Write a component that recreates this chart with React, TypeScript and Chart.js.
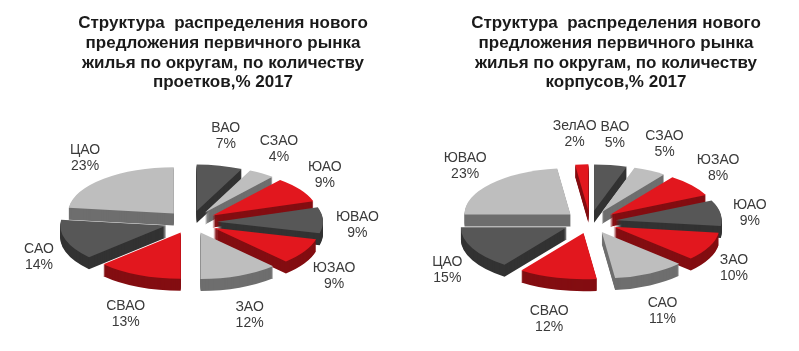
import React, { useEffect, useRef } from 'react';
import { Chart, registerables } from 'chart.js';

Chart.register(...registerables);

// ---------- data ----------
const titleA = [
  'Структура  распределения нового',
  'предложения первичного рынка',
  'жилья по округам, по количеству',
  'проетков,% 2017',
];
const districtsA = ['ВАО', 'СЗАО', 'ЮАО', 'ЮВАО', 'ЮЗАО', 'ЗАО', 'СВАО', 'САО', 'ЦАО'];
const sharesA = [7, 4, 9, 9, 9, 12, 13, 14, 23];
const tonesA = ['dark', 'light', 'red', 'dark', 'red', 'light', 'red', 'dark', 'light'];

const titleB = [
  'Структура  распределения нового',
  'предложения первичного рынка',
  'жилья по округам, по количеству',
  'корпусов,% 2017',
];
const districtsB = ['ВАО', 'СЗАО', 'ЮЗАО', 'ЮАО', 'ЗАО', 'САО', 'СВАО', 'ЦАО', 'ЮВАО', 'ЗелАО'];
const sharesB = [5, 5, 8, 9, 10, 11, 12, 15, 23, 2];
const tonesB = ['dark', 'light', 'red', 'dark', 'red', 'light', 'red', 'dark', 'light', 'red'];

// ---------- style ----------
const TOP: Record<string, string> = { dark: '#575757', light: '#BEBEBE', red: '#E2171E' };
const RADIUS = 106;
const EXPLODE = 26;
const TILT = 0.437;
const DEPTH = 12;
const FONT = '"Liberation Sans", Arial, Helvetica, sans-serif';

const pie3d = {
  id: 'pie3d',
  beforeDatasetsDraw(chart: any) {
    const meta = chart.getDatasetMeta(0);
    const arcs = meta.data as any[];
    if (!arcs.length) return false;
    const ctx = chart.ctx as CanvasRenderingContext2D;
    const cx = arcs[0].x;
    const cy = arcs[0].y;
    const order = arcs
      .map((_, i) => i)
      .sort((a, b) => {
        const ma = (arcs[a].startAngle + arcs[a].endAngle) / 2;
        const mb = (arcs[b].startAngle + arcs[b].endAngle) / 2;
        return Math.sin(ma) - Math.sin(mb);
      });
    for (const i of order) {
      const arc = arcs[i];
      const mid = (arc.startAngle + arc.endAngle) / 2;
      const dx = Math.cos(mid) * EXPLODE;
      const dy = Math.sin(mid) * EXPLODE;
      for (let t = DEPTH; t >= 0; t--) {
        ctx.save();
        ctx.translate(0, t);
        ctx.translate(cx, cy);
        ctx.scale(1, TILT);
        ctx.translate(-cx, -cy);
        ctx.translate(dx, dy);
        ctx.filter = t === 0 ? 'none' : 'brightness(0.58)';
        arc.draw(ctx);
        ctx.restore();
      }
    }
    return false;
  },
  afterDraw(chart: any, _args: any, opts: any) {
    const ctx = chart.ctx as CanvasRenderingContext2D;
    ctx.save();
    ctx.filter = 'none';
    // title
    ctx.font = `bold 17px ${FONT}`;
    ctx.fillStyle = '#1a1a1a';
    ctx.textAlign = 'center';
    ctx.textBaseline = 'alphabetic';
    (opts.title as string[]).forEach((line, i) => {
      ctx.fillText(line, opts.titleX, 28 + i * 19.8);
    });
    // labels
    const meta = chart.getDatasetMeta(0);
    const arcs = meta.data as any[];
    const labels = chart.data.labels as string[];
    const values = chart.data.datasets[0].data as number[];
    ctx.font = `14px ${FONT}`;
    ctx.fillStyle = '#3a3a3a';
    ctx.textBaseline = 'middle';
    const ax = RADIUS + EXPLODE + 13;
    const ay = (RADIUS + EXPLODE) * TILT + 20;
    const lh = 16;
    const boxes = arcs.map((arc, i) => {
      const mid = (arc.startAngle + arc.endAngle) / 2;
      const name = labels[i];
      const pct = `${values[i]}%`;
      const w = Math.max(ctx.measureText(name).width, ctx.measureText(pct).width);
      const h = lh * 2;
      const x = arc.x + (ax + w / 2) * Math.cos(mid);
      const y = arc.y + (ay + h / 2) * Math.sin(mid) + DEPTH / 2;
      return { name, pct, w, h, x, y, dir: Math.cos(mid) < 0 ? -1 : 1, v: values[i] };
    });
    // simple collision avoidance: smaller label moves sideways
    for (let pass = 0; pass < 3; pass++) {
      for (let i = 0; i < boxes.length; i++) {
        for (let j = 0; j < boxes.length; j++) {
          if (i === j) continue;
          const a = boxes[i];
          const b = boxes[j];
          if (a.v > b.v || (a.v === b.v && i < j)) continue;
          const ox = (a.w + b.w) / 2 + 4 - Math.abs(a.x - b.x);
          const oy = (a.h + b.h) / 2 - 4 - Math.abs(a.y - b.y);
          if (ox > 0 && oy > 0) {
            a.x += a.dir * ox;
          }
        }
      }
    }
    boxes.forEach((b) => {
      ctx.fillText(b.name, b.x, b.y - lh / 2);
      ctx.fillText(b.pct, b.x, b.y + lh / 2);
    });
    ctx.restore();
  },
};

type PieProps = {
  labels: string[];
  values: number[];
  tones: string[];
  title: string[];
  width: number;
  height: number;
  padRight: number;
  titleX: number;
};

function Pie3D({ labels, values, tones, title, width, height, padRight, titleX }: PieProps) {
  const ref = useRef<HTMLCanvasElement>(null);
  useEffect(() => {
    const chart = new Chart(ref.current as HTMLCanvasElement, {
      type: 'pie',
      data: {
        labels,
        datasets: [
          {
            data: values,
            backgroundColor: tones.map((t) => TOP[t]),
            borderWidth: 0,
            radius: RADIUS,
          } as any,
        ],
      },
      options: {
        responsive: false,
        animation: false,
        events: [],
        radius: RADIUS,
        layout: { padding: { left: 0, right: padRight, top: 93, bottom: 0 } },
        plugins: {
          legend: { display: false },
          tooltip: { enabled: false },
          title: { display: false },
          pie3d: { title, titleX },
        } as any,
      } as any,
      plugins: [pie3d as any],
    });
    return () => chart.destroy();
  }, []);
  return <canvas ref={ref} width={width} height={height} style={{ display: 'block' }} />;
}

export default function App() {
  return (
    <div
      style={{
        position: 'fixed',
        left: 0,
        top: 0,
        width: 799,
        height: 351,
        background: '#ffffff',
        overflow: 'hidden',
      }}
    >
      <div style={{ position: 'absolute', left: 0, top: 0 }}>
        <Pie3D
          labels={districtsA}
          values={sharesA}
          tones={tonesA}
          title={titleA}
          width={400}
          height={351}
          padRight={18}
          titleX={223}
        />
      </div>
      <div style={{ position: 'absolute', left: 400, top: 0 }}>
        <Pie3D
          labels={districtsB}
          values={sharesB}
          tones={tonesB}
          title={titleB}
          width={399}
          height={351}
          padRight={19}
          titleX={216}
        />
      </div>
    </div>
  );
}
